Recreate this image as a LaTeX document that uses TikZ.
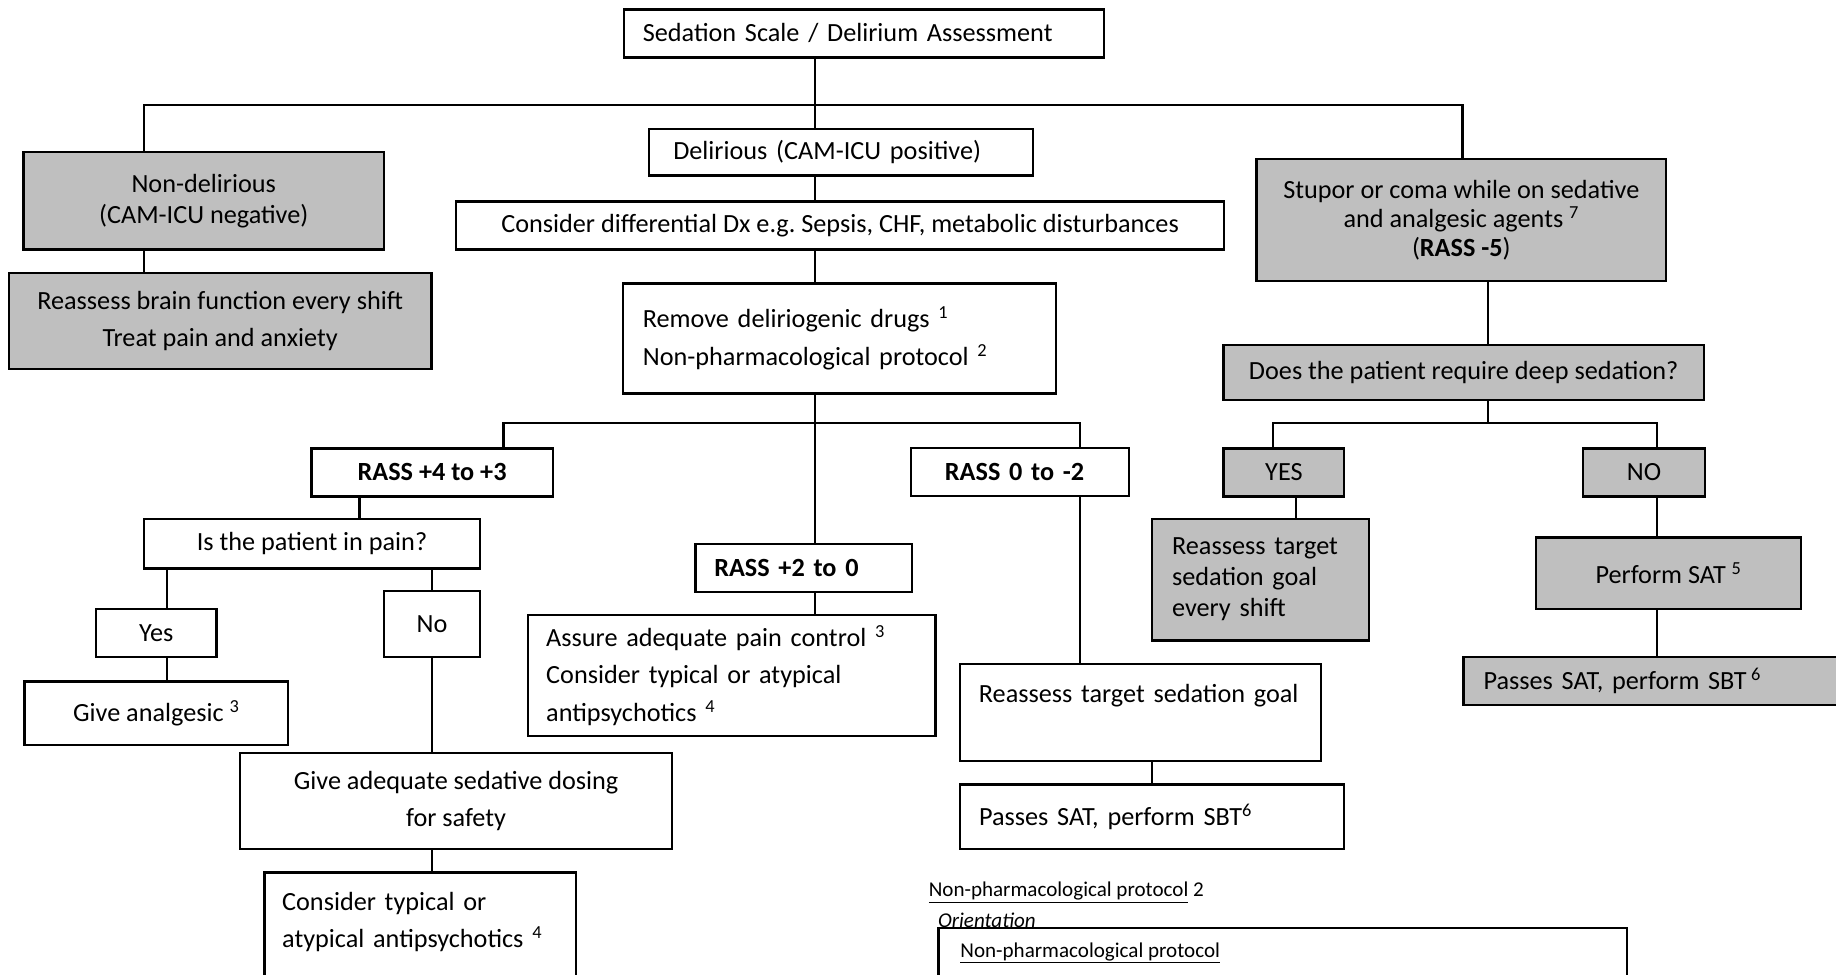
\documentclass[tikz,border=0pt]{standalone}
\usepackage{fontspec}
\setmainfont{Carlito}
\usepackage{tikz}
\frenchspacing

\begin{document}
\begin{tikzpicture}[
    x=1pt, y=-1pt,
    box/.style={draw, line width=2pt, fill=white, inner sep=0pt, align=center,
                font=\fontsize{22.4}{26.5}\selectfont},
    grey/.style={box, fill=black!25},
    spaced/.style={font=\fontsize{22.4}{32}\selectfont},
    link/.style={line width=1.8pt},
    note/.style={anchor=west, inner sep=0pt, font=\fontsize{18}{21}\selectfont}
  ]
    \useasboundingbox (0,0) rectangle (1568,832);
    \clip (0,0) rectangle (1568,832);

    % top and first split
    \node[box, minimum height=41pt, text width=378pt, inner xsep=16pt, align=left] (top) at (738,28.5) {Sedation Scale / Delirium Assessment};
    \node[grey, minimum width=308pt, minimum height=83pt] (nondel) at (174,171.5) {Non-delirious\\(CAM-ICU negative)};
    \node[grey, spaced, minimum width=361pt, minimum height=82pt] (brain) at (188,274) {Reassess brain function every shift\\Treat pain and anxiety};
    \node[box, minimum height=40pt, text width=286pt, inner xsep=21pt, align=left] (delirious) at (718,130) {Delirious (CAM-ICU positive)};
    \node[box, minimum width=656pt, minimum height=41pt] (differential) at (717.5,192.5) {Consider differential Dx e.g. Sepsis, CHF, metabolic disturbances};
    \node[box, spaced, minimum height=94pt, text width=336pt, inner xsep=17pt, align=left] (remove) at (717,289) {Remove deliriogenic drugs \textsuperscript{1}\\Non-pharmacological protocol \textsuperscript{2}};
    \node[grey, font=\fontsize{22.4}{25}\selectfont, minimum width=350pt, minimum height=104pt] (stupor) at (1248,188) {Stupor or coma while on sedative\\and analgesic agents \textsuperscript{7}\\(\textbf{RASS -5})};
    \node[grey, minimum width=410pt, minimum height=47pt] (deep) at (1250,318) {Does the patient require deep sedation?};

    % RASS levels
    \node[box, minimum width=206pt, minimum height=41pt] (rass43) at (369,403.5) {\textbf{RASS +4 to +3}};
    \node[box, minimum height=41pt, text width=128pt, inner xsep=29pt, align=left] (rass02) at (871,403) {\textbf{RASS 0 to -2}};
    \node[box, minimum height=41pt, text width=153pt, inner xsep=16pt, align=left] (rass20) at (686.5,485) {\textbf{RASS +2 to 0}};
    \node[grey, minimum width=103pt, minimum height=41pt] (yesbtn) at (1096.5,403.5) {YES};
    \node[grey, minimum width=104pt, minimum height=41pt] (nobtn) at (1404,403.5) {NO};

    % agitated branch
    \node[box, minimum width=287pt, minimum height=42pt] (pain) at (266.5,464.5) {Is the patient in pain?};
    \node[box, minimum width=103pt, minimum height=41pt] (yes) at (133.5,540.5) {Yes};
    \node[box, minimum width=82pt, minimum height=56pt] (no) at (369,533) {No};
    \node[box, minimum width=225pt, minimum height=54pt] (analgesic) at (133.5,609) {Give analgesic \textsuperscript{3}};
    \node[box, spaced, minimum width=369pt, minimum height=82pt] (sedative) at (389.5,684) {Give adequate sedative dosing\\for safety};
    \node[box, font=\fontsize{22.4}{31}\selectfont, minimum height=112pt, text width=236pt, inner xsep=15pt, align=left] (typical) at (359,801) {Consider typical or\\atypical antipsychotics \textsuperscript{4}\\\mbox{}};

    % calm branch
    \node[box, spaced, minimum height=103pt, text width=317pt, inner xsep=15.5pt, align=left] (assure) at (625,577) {Assure adequate pain control \textsuperscript{3}\\Consider typical or atypical\\antipsychotics \textsuperscript{4}};
    \node[box, spaced, minimum height=83pt, text width=276pt, inner xsep=16pt, align=left] (target) at (974,608.5) {Reassess target sedation goal\\\mbox{}};
    \node[box, minimum height=55pt, text width=295pt, inner xsep=16.5pt, align=left] (passes) at (983.6,697.5) {Passes SAT, perform SBT\textsuperscript{6}};

    % deep sedation branch
    \node[grey, minimum height=104pt, text width=151pt, inner xsep=17pt, align=left] (goal) at (1076.5,495) {Reassess target\\sedation goal\\every shift};
    \node[grey, minimum width=226pt, minimum height=61pt] (perform) at (1425,489.5) {Perform SAT \textsuperscript{5}};
    \node[grey, minimum height=41pt, text width=366pt, inner xsep=17pt, align=left] (passesgrey) at (1450,581.5) {Passes SAT, perform SBT\,\textsuperscript{6}};

    % footnote
    \node[note] (notehead) at (793,762) {\underline{Non-pharmacological protocol} 2};
    \node[note, font=\fontsize{18}{21}\selectfont\itshape] (orient) at (801,786) {Orientation};
    \node[box, minimum width=588pt, minimum height=107pt] (notebox) at (1095.6,846) {};
    \node[note] (noteinner) at (820,813.6) {\underline{Non-pharmacological protocol}};

    % junctions
    \coordinate (jTop) at (696,90);
    \coordinate (jL) at (123,90);
    \coordinate (jR) at (1249,90);
    \coordinate (jMid) at (696,361);
    \coordinate (jMidL) at (430,361);
    \coordinate (jMidR) at (922,361);
    \coordinate (jDeep) at (1271,361);
    \coordinate (jYes) at (1087,361);
    \coordinate (jNo) at (1415,361);
    \coordinate (cPain) at (307,0);
    \coordinate (cYes) at (143,0);
    \coordinate (cNo) at (369,0);
    \coordinate (cGoal) at (1107,0);
    \coordinate (cPass) at (984,0);

    \draw[link] (top.south -| jTop) -- (delirious.north -| jTop);
    \draw[link] (nondel.north -| jL) -- (jL) -- (jR) -- (stupor.north -| jR);
    \draw[link] (nondel.south -| jL) -- (brain.north -| jL);
    \draw[link] (delirious.south -| jTop) -- (differential.north -| jTop);
    \draw[link] (differential.south -| jTop) -- (remove.north -| jTop);
    \draw[link] (remove.south -| jMid) -- (rass20.north -| jMid);
    \draw[link] (rass43.north -| jMidL) -- (jMidL) -- (jMidR) -- (rass02.north -| jMidR);
    \draw[link] (rass20.south -| jMid) -- (assure.north -| jMid);
    \draw[link] (rass02.south -| jMidR) -- (target.north -| jMidR);
    \draw[link] (target.south -| cPass) -- (passes.north -| cPass);
    \draw[link] (rass43.south -| cPain) -- (pain.north -| cPain);
    \draw[link] (pain.south -| cYes) -- (yes.north -| cYes);
    \draw[link] (yes.south -| cYes) -- (analgesic.north -| cYes);
    \draw[link] (pain.south -| cNo) -- (no.north -| cNo);
    \draw[link] (no.south -| cNo) -- (sedative.north -| cNo);
    \draw[link] (sedative.south -| cNo) -- (typical.north -| cNo);
    \draw[link] (stupor.south -| jDeep) -- (deep.north -| jDeep);
    \draw[link] (deep.south -| jDeep) -- (jDeep);
    \draw[link] (yesbtn.north -| jYes) -- (jYes) -- (jNo) -- (nobtn.north -| jNo);
    \draw[link] (yesbtn.south -| cGoal) -- (goal.north -| cGoal);
    \draw[link] (nobtn.south -| jNo) -- (perform.north -| jNo);
    \draw[link] (perform.south -| jNo) -- (passesgrey.north -| jNo);
  \end{tikzpicture}
\end{document}
